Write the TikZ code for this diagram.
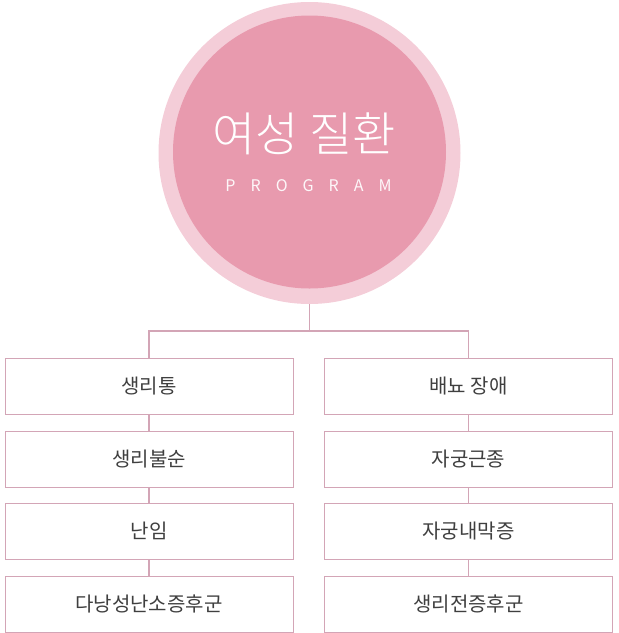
\documentclass[tikz,border=0pt]{standalone}
\usepackage{fontspec}
\setmainfont{Noto Sans CJK KR}
\newfontfamily\krfont{Noto Sans CJK KR}
\newfontfamily\krlight{Noto Sans CJK KR Light}
\definecolor{outerpink}{HTML}{F4CDD8}
\definecolor{innerpink}{HTML}{E89AAE}
\definecolor{linepink}{HTML}{D3A5B6}
\definecolor{txtgray}{HTML}{3F3F3F}
\begin{document}
\begin{tikzpicture}[x=1pt,y=-1pt,
  item/.style={draw=linepink,line width=1pt,fill=white,minimum width=288pt,minimum height=56pt,inner sep=0pt,font=\krfont\fontsize{20}{24}\selectfont,text=txtgray},
  conn/.style={draw=linepink,line width=1.6pt}]
\useasboundingbox (0,0) rectangle (619,633);
\node[circle,fill=outerpink,minimum size=302pt,inner sep=0pt] (outer) at (309.5,153) {};
\node[circle,fill=innerpink,minimum size=273pt,inner sep=0pt] (inner) at (309.5,152) {};
\node[text=white,font=\krlight\fontsize{47}{52}\selectfont] (title) at (304,134) {여성 질환};
\node[text=white!92!innerpink,font=\krfont\fontsize{16}{18}\selectfont] (prog) at (308.5,186) {P\hspace{15pt}R\hspace{15pt}O\hspace{15pt}G\hspace{15pt}R\hspace{15pt}A\hspace{15pt}M};
\node[item] (l1) at (149,386) {생리통};
\node[item] (l2) at (149,459) {생리불순};
\node[item] (l3) at (149,531) {난임};
\node[item] (l4) at (149,604) {다낭성난소증후군};
\node[item] (r1) at (468.5,386) {배뇨 장애};
\node[item] (r2) at (468.5,459) {자궁근종};
\node[item] (r3) at (468.5,531) {자궁내막증};
\node[item] (r4) at (468.5,604) {생리전증후군};
\coordinate (split) at (309.5,331);
\draw[conn] (outer.south) -- (split);
\draw[conn] (l1.north) |- (split) -| (r1.north);
\draw[conn] (l1) -- (l2); \draw[conn] (l2) -- (l3); \draw[conn] (l3) -- (l4);
\draw[conn] (r1) -- (r2); \draw[conn] (r2) -- (r3); \draw[conn] (r3) -- (r4);
\end{tikzpicture}
\end{document}
